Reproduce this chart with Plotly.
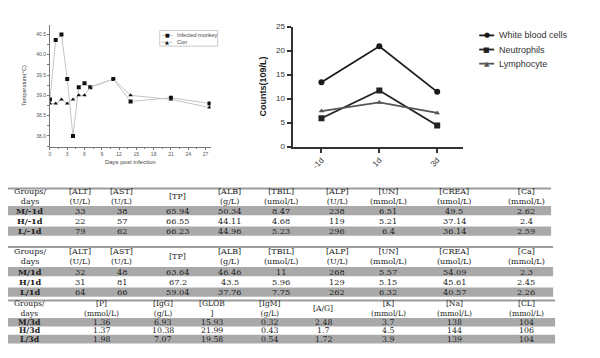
import plotly.graph_objects as go

W, H = 600, 358
# the page body adds an 8px margin around the figure; positions below are
# given in screenshot pixels and shifted back by this amount
PAGE_OFFSET = 8

# ---------------- data ----------------
days_inf = [0, 1, 2, 3, 4, 5, 6, 7, 11, 14, 21, 27.7]
temp_inf = [38.9, 40.36, 40.5, 39.4, 38.0, 39.2, 39.3, 39.2, 39.4, 38.85, 38.94, 38.8]
days_con = [0, 1, 2, 3, 4, 5, 6, 7, 11, 14, 21, 27.7]
temp_con = [38.8, 38.8, 38.9, 38.8, 38.9, 39.0, 39.0, 39.2, 39.4, 39.0, 38.9, 38.7]

count_days = ["-1d", "1d", "3d"]
wbc = [13.4, 20.9, 11.4]
neutro = [5.9, 11.7, 4.4]
lympho = [7.4, 9.2, 7.0]

t1_head = ["Groups/<br>days", "[ALT]<br>(U/L)", "[AST]<br>(U/L)", "[TP]", "[ALB]<br>(g/L)",
           "[TBIL]<br>(umol/L)", "[ALP]<br>(U/L)", "[UN]<br>(mmol/L)", "[CREA]<br>(umol/L)",
           "[Ca]<br>(mmol/L)"]
t1_groups = ["M/-1d", "H/-1d", "L/-1d"]
t1_ALT = [33, 22, 79]
t1_AST = [38, 57, 62]
t1_TP = [65.94, 66.55, 66.23]
t1_ALB = [50.34, 44.11, 44.96]
t1_TBIL = [8.47, 4.68, 5.23]
t1_ALP = [238, 119, 296]
t1_UN = [6.51, 5.21, 6.4]
t1_CREA = [49.5, 37.14, 36.14]
t1_Ca = [2.62, 2.4, 2.59]

t2_groups = ["M/1d", "H/1d", "L/1d"]
t2_ALT = [32, 31, 64]
t2_AST = [48, 81, 66]
t2_TP = [63.64, 67.2, 59.04]
t2_ALB = [46.46, 43.5, 37.76]
t2_TBIL = [11, 5.96, 7.75]
t2_ALP = [268, 129, 262]
t2_UN = [5.57, 5.15, 6.32]
t2_CREA = [54.09, 45.61, 40.57]
t2_Ca = [2.3, 2.45, 2.26]

t3_head = ["Groups/<br>days", "[P]<br>(mmol/L)", "[IgG]<br>(g/L)", "[GLOB<br>]", "[IgM]<br>(g/L)",
           "[A/G]", "[K]<br>(mmol/L)", "[Na]<br>(mmol/L)", "[CL]<br>(mmol/L)"]
t3_groups = ["M/3d", "H/3d", "L/3d"]
t3_P = [1.36, 1.37, 1.98]
t3_IgG = [6.93, 10.38, 7.07]
t3_GLOB = [15.93, 21.99, 19.58]
t3_IgM = [0.32, 0.43, 0.54]
t3_AG = [2.48, 1.7, 1.72]
t3_K = [3.7, 4.5, 3.9]
t3_Na = [138, 144, 139]
t3_CL = [104, 106, 104]

temp_legend = ["Infected monkey", "Con"]
count_legend = ["White blood cells", "Neutrophils", "Lymphocyte"]

# ---------------- helpers ----------------
def fx(p):
    return (p - PAGE_OFFSET) / W

def fy(p):
    return 1 - (p - PAGE_OFFSET) / H

fig = go.Figure()

# ---------------- left chart: temperature ----------------
fig.add_trace(go.Scatter(
    x=days_inf, y=temp_inf, mode="lines+markers", name=temp_legend[0],
    line=dict(color="#c4c4c4", width=1),
    marker=dict(symbol="square", size=4, color="#111"),
    xaxis="x", yaxis="y", showlegend=False))
fig.add_trace(go.Scatter(
    x=days_con, y=temp_con, mode="lines+markers", name=temp_legend[1],
    line=dict(color="#c4c4c4", width=1),
    marker=dict(symbol="triangle-up", size=4, color="#111"),
    xaxis="x", yaxis="y", showlegend=False))

# ---------------- right chart: counts ----------------
count_styles = [
    dict(color="#1a1a1a", symbol="circle", size=6, glyph="●"),
    dict(color="#222222", symbol="square", size=6, glyph="■"),
    dict(color="#555555", symbol="triangle-up", size=5, glyph="▲"),
]
for vals, name, st in zip([wbc, neutro, lympho], count_legend, count_styles):
    fig.add_trace(go.Scatter(
        x=count_days, y=vals, mode="lines+markers", name=name,
        line=dict(color=st["color"], width=1.8),
        marker=dict(symbol=st["symbol"], size=st["size"], color=st["color"]),
        xaxis="x2", yaxis="y2", showlegend=False))

axis_font_small = dict(family="Liberation Sans, Arial", size=5, color="#555")

fig.update_layout(
    width=W, height=H,
    margin=dict(l=0, r=0, t=0, b=0),
    paper_bgcolor="white", plot_bgcolor="white",
    showlegend=False,
    xaxis=dict(
        domain=[fx(49), fx(210)], range=[0, 27.9], anchor="y",
        tickmode="linear", tick0=0, dtick=3,
        showline=True, linecolor="#777", linewidth=1,
        ticks="outside", ticklen=2, tickcolor="#777",
        minor=dict(ticks="outside", ticklen=1.5, tickcolor="#777", dtick=1.5),
        showgrid=False, zeroline=False, tickfont=axis_font_small,
        title=dict(text="Days post infection", standoff=4,
                   font=dict(family="Liberation Sans, Arial", size=6, color="#444")),
    ),
    yaxis=dict(
        domain=[fy(146), fy(21)], range=[37.74, 40.74], anchor="x",
        tickmode="linear", tick0=38.0, dtick=0.5, tickformat=".1f",
        showline=True, linecolor="#777", linewidth=1,
        ticks="outside", ticklen=2, tickcolor="#777",
        minor=dict(ticks="outside", ticklen=1.5, tickcolor="#777", dtick=0.25),
        showgrid=False, zeroline=False, tickfont=axis_font_small,
        title=dict(text="Temperature(°C)", standoff=9,
                   font=dict(family="Liberation Sans, Arial", size=5.5, color="#444")),
    ),
    xaxis2=dict(
        domain=[fx(292), fx(463)], range=[-0.5, 2.45], anchor="y2",
        type="category", showline=True, linecolor="#333", linewidth=2,
        ticks="outside", ticklen=4, tickwidth=1.5, tickcolor="#333",
        showgrid=False, zeroline=False, tickangle=-45,
        tickfont=dict(family="Liberation Sans, Arial", size=8, color="#333"),
    ),
    yaxis2=dict(
        domain=[fy(146), fy(23)], range=[0, 25], anchor="x2",
        tickmode="linear", tick0=0, dtick=5,
        showline=True, linecolor="#333", linewidth=2,
        ticks="outside", ticklen=4, tickwidth=1.5, tickcolor="#333",
        showgrid=False, zeroline=False,
        tickfont=dict(family="Liberation Sans, Arial", size=8, color="#333"),
        title=dict(text="<b>Counts(109/L)</b>", standoff=8,
                   font=dict(family="Liberation Sans, Arial", size=9, color="#222")),
    ),
)

shapes = []
annotations = []

# legend for the temperature chart
shapes.append(dict(type="rect", xref="paper", yref="paper",
                   x0=fx(159), x1=fx(217), y0=fy(43), y1=fy(27),
                   line=dict(color="#bbb", width=0.8)))
for sym, txt, yy in zip(["■", "▲"], temp_legend, [32, 39]):
    shapes.append(dict(type="line", xref="paper", yref="paper",
                       x0=fx(161), x1=fx(172), y0=fy(yy), y1=fy(yy),
                       line=dict(color="#c4c4c4", width=1)))
    annotations.append(dict(text=sym, xref="paper", yref="paper", x=fx(166.5), y=fy(yy),
                            xanchor="center", yanchor="middle", showarrow=False, borderpad=0,
                            font=dict(family="DejaVu Sans", size=5, color="#111")))
    annotations.append(dict(text=txt, xref="paper", yref="paper", x=fx(175), y=fy(yy),
                            xanchor="left", yanchor="middle", showarrow=False, borderpad=0,
                            font=dict(family="Liberation Sans, Arial", size=5.5, color="#444")))

# legend for the counts chart
for st, txt, yy in zip(count_styles, count_legend, [32, 46.5, 61]):
    shapes.append(dict(type="line", xref="paper", yref="paper",
                       x0=fx(479), x1=fx(494), y0=fy(yy), y1=fy(yy),
                       line=dict(color=st["color"], width=1.8)))
    annotations.append(dict(text=st["glyph"], xref="paper", yref="paper", x=fx(486.5), y=fy(yy),
                            xanchor="center", yanchor="middle", showarrow=False, borderpad=0,
                            font=dict(family="DejaVu Sans", size=7, color=st["color"])))
    annotations.append(dict(text=txt, xref="paper", yref="paper", x=fx(498), y=fy(yy),
                            xanchor="left", yanchor="middle", showarrow=False, borderpad=0,
                            font=dict(family="Liberation Sans, Arial", size=9, color="#333")))

# ---------------- tables ----------------
SERIF = "DejaVu Serif, Liberation Serif, serif"
GRAY = "#a9a9a9"
TXT = "#1e1e1e"


def draw_table(col_x, heads, groups, cols, x0, x1, line_y, hmid, bands, text_ys, fs_head, fs):
    shapes.append(dict(type="line", xref="paper", yref="paper",
                       x0=fx(x0), x1=fx(x1), y0=fy(line_y), y1=fy(line_y),
                       line=dict(color="#9c9c9c", width=2)))
    for (b0, b1) in bands:
        shapes.append(dict(type="rect", xref="paper", yref="paper",
                           x0=fx(x0), x1=fx(x1), y0=fy(b1), y1=fy(b0),
                           fillcolor=GRAY, line=dict(width=0), layer="below"))
    for i, cx in enumerate(col_x):
        annotations.append(dict(text=heads[i], xref="paper", yref="paper",
                                x=fx(cx), y=fy(hmid), xanchor="center", yanchor="middle",
                                showarrow=False, borderpad=0, align="center",
                                font=dict(family=SERIF, size=fs_head, color=TXT)))
    for r, g in enumerate(groups):
        annotations.append(dict(text="<b>" + g + "</b>", xref="paper", yref="paper",
                                x=fx(col_x[0]), y=fy(text_ys[r]), xanchor="center",
                                yanchor="middle", showarrow=False, borderpad=0,
                                font=dict(family=SERIF, size=fs, color=TXT)))
        for c, vals in enumerate(cols):
            annotations.append(dict(text=str(vals[r]), xref="paper", yref="paper",
                                    x=fx(col_x[c + 1]), y=fy(text_ys[r]), xanchor="center",
                                    yanchor="middle", showarrow=False, borderpad=0,
                                    font=dict(family=SERIF, size=fs, color=TXT)))


cols12_x = [29, 79, 121, 177, 229, 280, 337, 388, 454, 526]
cols3_x = [29, 101, 162, 211, 269, 323, 388, 454, 526]

draw_table(cols12_x, t1_head, t1_groups,
           [t1_ALT, t1_AST, t1_TP, t1_ALB, t1_TBIL, t1_ALP, t1_UN, t1_CREA, t1_Ca],
           3, 551, 189, 197, [(207, 216.5), (228, 237.5)], [212.6, 222.8, 233], 8.0, 8.2)
draw_table(cols12_x, t1_head, t2_groups,
           [t2_ALT, t2_AST, t2_TP, t2_ALB, t2_TBIL, t2_ALP, t2_UN, t2_CREA, t2_Ca],
           3, 553, 249, 259, [(269.5, 279), (290.5, 300)], [274.6, 285, 295.5], 8.0, 8.2)
draw_table(cols3_x, t3_head, t3_groups,
           [t3_P, t3_IgG, t3_GLOB, t3_IgM, t3_AG, t3_K, t3_Na, t3_CL],
           3, 555, 304, 312.5, [(322, 330.5), (339, 348)], [326.4, 335.1, 343.8], 7.6, 7.8)

fig.update_layout(shapes=shapes, annotations=annotations)

fig.write_html("out.html")
